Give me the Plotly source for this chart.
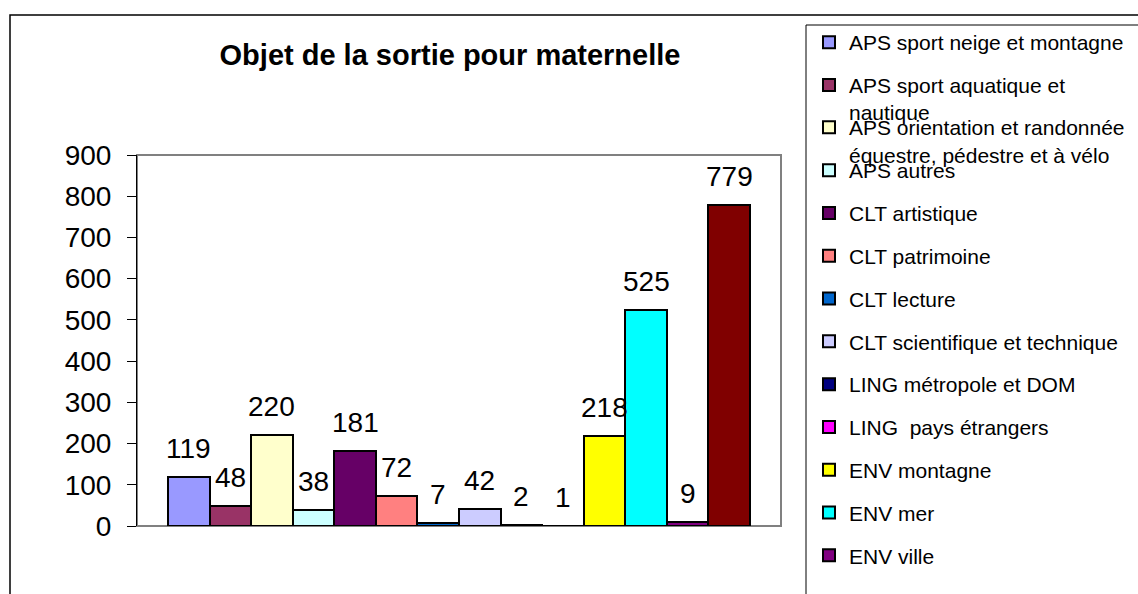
import plotly.graph_objects as go

# ---- data ----
categories = [
    "APS sport neige et montagne",
    "APS sport aquatique et<br>nautique",
    "APS orientation et randonnée<br>équestre, pédestre et à vélo",
    "APS autres",
    "CLT artistique",
    "CLT patrimoine",
    "CLT lecture",
    "CLT scientifique et technique",
    "LING métropole et DOM",
    "LING  pays étrangers",
    "ENV montagne",
    "ENV mer",
    "ENV ville",
    "ENV campagne",
]
values = [119, 48, 220, 38, 181, 72, 7, 42, 2, 1, 218, 525, 9, 779]
colors = ["#9999FF", "#993366", "#FFFFCC", "#CCFFFF", "#660066", "#FF8080",
          "#0066CC", "#CCCCFF", "#000080", "#FF00FF", "#FFFF00", "#00FFFF",
          "#800080", "#800000"]
legend_of = ["legend", "legend", "legend2"] + ["legend3"] * 11
show_in_legend = [True] * 13 + [False]
title_text = "Objet de la sortie pour maternelle"
y_ticks = [0, 100, 200, 300, 400, 500, 600, 700, 800, 900]

# ---- geometry (pixels) ----
W, H = 1138, 594
L, R, T, B = 137, 781, 155, 526
pw, ph = R - L, B - T


def px_x(x):
    return (x - L) / pw


def px_y(y):
    return (B - y) / ph


FONT = "Arial, Liberation Sans, sans-serif"

fig = go.Figure()
for i, (cat, val, col) in enumerate(zip(categories, values, colors)):
    fig.add_trace(go.Bar(
        x=[i], y=[val], name=cat,
        marker=dict(color=col, line=dict(color="black", width=2)),
        legend=legend_of[i], legendgroup=f"g{i}",
        showlegend=show_in_legend[i],
        width=1.0,
    ))
    fig.add_annotation(x=i, y=val, text=str(val), showarrow=False,
                       yanchor="bottom", yshift=11,
                       font=dict(family=FONT, size=28, color="black"))

pad = 0.747
fig.update_xaxes(range=[-0.5 - pad, len(values) - 0.5 + pad],
                 showticklabels=False, ticks="", showgrid=False,
                 zeroline=False, showline=False)
fig.update_yaxes(range=[0, 900], tickvals=y_ticks, showgrid=False,
                 zeroline=False, showline=True, linecolor="black",
                 linewidth=1, ticks="outside", ticklen=9, tickcolor="black",
                 tickwidth=1, ticklabelstandoff=10,
                 tickfont=dict(family=FONT, size=28, color="black"))

legend_common = dict(xanchor="left", yanchor="top", bgcolor="rgba(0,0,0,0)",
                     borderwidth=0, valign="top", tracegroupgap=12.5,
                     traceorder="grouped", maxheight=800,
                     font=dict(family=FONT, size=21, color="black"))
lx = px_x(809)
fig.update_layout(
    legend=dict(x=lx, y=px_y(22), **legend_common),
    legend2=dict(x=lx, y=px_y(107), **legend_common),
    legend3=dict(x=lx, y=px_y(150), **legend_common),
)

shapes = [
    # plot area border (gray)
    dict(type="rect", xref="paper", yref="paper", x0=0, x1=1, y0=0, y1=1,
         line=dict(color="#808080", width=2), layer="below"),
    # outer chart border
    dict(type="rect", xref="paper", yref="paper",
         x0=px_x(10), x1=px_x(1142), y0=px_y(598), y1=px_y(15),
         line=dict(color="black", width=1.5)),
    # legend frame
    dict(type="rect", xref="paper", yref="paper",
         x0=px_x(806), x1=px_x(1142), y0=px_y(598), y1=px_y(25),
         line=dict(color="black", width=1)),
]

fig.update_layout(
    width=W, height=H,
    margin=dict(l=L, r=W - R, t=T, b=H - B, autoexpand=False),
    paper_bgcolor="white", plot_bgcolor="white",
    barmode="overlay", bargap=0,
    shapes=shapes,
    title=dict(text=f"<b>{title_text}</b>", x=450 / W, xref="container",
               xanchor="center", y=1 - 55 / H, yref="container",
               yanchor="middle",
               font=dict(family=FONT, size=29, color="black")),
    font=dict(family=FONT, color="black"),
)

fig.write_html(
    "out.html",
    config={"displayModeBar": False},
    post_script="document.body.style.margin='0';"
                "document.body.style.overflow='hidden';",
)
